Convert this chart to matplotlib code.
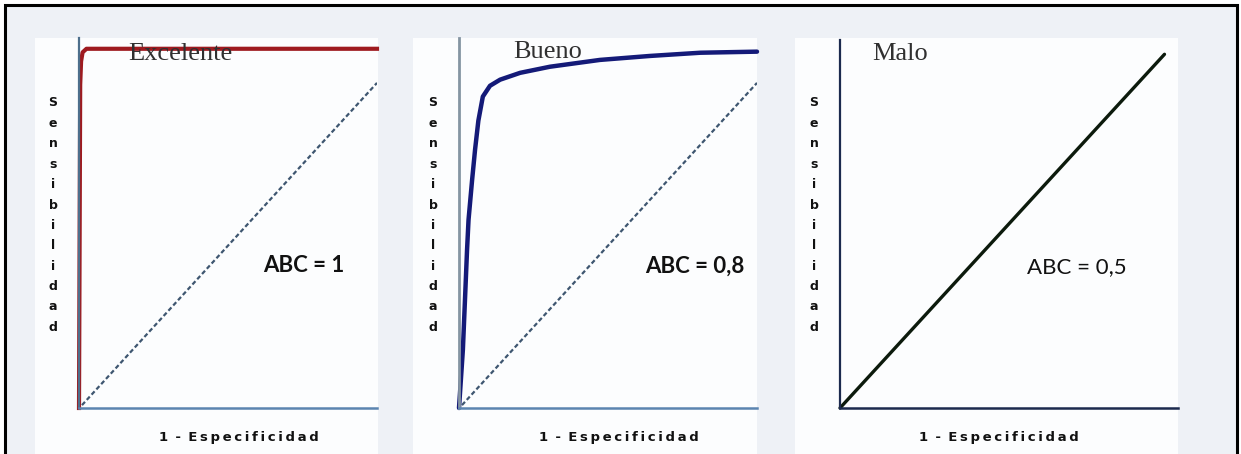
import numpy as np
import matplotlib.pyplot as plt
from matplotlib.patches import Rectangle

W, H = 1241, 454

# curve data (1 - especificidad, sensibilidad)
fpr_excelente = [0.0, 0.004, 0.007, 0.012, 0.025, 1.0]
tpr_excelente = [0.0, 0.90, 0.965, 0.99, 1.0, 1.0]

fpr_bueno = [0.0, 0.013, 0.02, 0.027, 0.032, 0.044, 0.054, 0.065, 0.08, 0.104,
             0.138, 0.205, 0.305, 0.473, 0.64, 0.81, 1.0]
tpr_bueno = [0.0, 0.162, 0.30, 0.44, 0.524, 0.635, 0.72, 0.80, 0.867, 0.897,
             0.914, 0.933, 0.950, 0.969, 0.98, 0.989, 0.992]

fpr_malo = [0.0, 0.96]
tpr_malo = [0.0, 0.99]

diag_x = [0.01, 1.0]
diag_y = [0.008, 0.905]

titles = ['Excelente', 'Bueno', 'Malo']
abc_labels = ['ABC = 1', 'ABC = 0,8', 'ABC = 0,5']
ylabel = 'Sensibilidad'
xlabel = '1 - Especificidad'


def fx(px):
    return px / W


def fy(py):
    return 1 - py / H


fig = plt.figure(figsize=(W / 100, H / 100), dpi=100, facecolor='white')

# outer frame and light background (bottom edge runs off the picture)
fig.add_artist(Rectangle((fx(5), fy(470)), fx(1232), 465 / H, transform=fig.transFigure,
                         facecolor='#eef1f6', edgecolor='black', lw=2.2, zorder=-10))

# white panels (left, right) in px, axes (left, right, top)
panels = [(35, 378, 79, 377, 38), (413, 757, 459, 757, 38), (795, 1178, 840, 1178, 40)]
axes = []
for pl, pr, al, ar, at in panels:
    fig.add_artist(Rectangle((fx(pl), 0), fx(pr - pl), fy(38), transform=fig.transFigure,
                             facecolor='#fcfdfe', edgecolor='none', zorder=-5))
    ax = fig.add_axes([fx(al), fy(408), fx(ar - al), (408 - at) / H])
    ax.set_xlim(0, 1)
    ax.set_ylim(0, 1.03)
    ax.set_facecolor('none')
    ax.set_xticks([])
    ax.set_yticks([])
    ax.spines['top'].set_visible(False)
    ax.spines['right'].set_visible(False)
    axes.append(ax)

left_cols = ['#4d6f8c', '#8595a2', '#1c2a4e']
left_w = [1.6, 2.0, 1.6]
bottom_cols = ['#5b84b0', '#5b84b0', '#1c2a4e']
for ax, lc, lw, bc in zip(axes, left_cols, left_w, bottom_cols):
    ax.spines['left'].set_color(lc)
    ax.spines['left'].set_linewidth(lw)
    ax.spines['bottom'].set_color(bc)
    ax.spines['bottom'].set_linewidth(1.8)

axes[0].plot(fpr_excelente, tpr_excelente, color='#9e1a1f', lw=3.0,
             solid_joinstyle='round', clip_on=False)
axes[1].plot(fpr_bueno, tpr_bueno, color='#141a78', lw=3.2,
             solid_capstyle='round', solid_joinstyle='round', clip_on=False)
axes[2].plot(fpr_malo, tpr_malo, color='#0c1a0c', lw=2.4,
             solid_capstyle='round', clip_on=False)
for ax in axes[:2]:
    ax.plot(diag_x, diag_y, color='#3e5670', lw=1.6, ls=(0, (2.0, 1.2)))

title_pos = [(0.164, 0.957), (0.181, 0.962), (0.095, 0.962)]
for ax, t, (tx, ty) in zip(axes, titles, title_pos):
    ax.text(tx, ty, t, transform=ax.transAxes, family='Liberation Serif',
            fontsize=19, color='#303030', va='center', ha='left')

abc_pos = [(0.617, 0.384), (0.624, 0.384), (0.553, 0.384)]
abc_weight = ['bold', 'bold', 'normal']
for ax, t, (tx, ty), w in zip(axes, abc_labels, abc_pos, abc_weight):
    ax.text(tx, ty, t, transform=ax.transAxes, family='Lato',
            fontsize=16, fontweight=w, color='#111111', va='center', ha='left')

# vertical stacked y labels
for xpx in [53, 433, 814]:
    for i, ch in enumerate(ylabel):
        fig.text(fx(xpx), fy(103 + i * 20.4), ch, fontsize=9, fontweight='bold',
                 ha='center', va='center', color='#111111')

spaced = '1 \u2009-\u2009 ' + '\u2009'.join('Especificidad')
for cx in [239, 619, 999]:
    fig.text(fx(cx), fy(437), spaced, fontsize=9.5, fontweight='bold',
             ha='center', va='center', color='#111111')

fig.savefig('out.png', dpi=100, facecolor=fig.get_facecolor())
